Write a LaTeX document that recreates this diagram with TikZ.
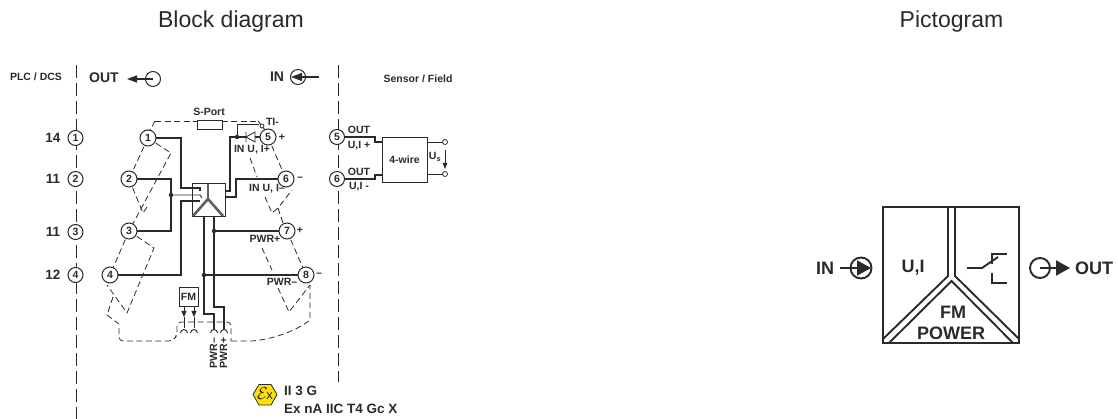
\documentclass[tikz,border=0pt]{standalone}
\usepackage{fontspec}
\setmainfont{Liberation Sans}
\usetikzlibrary{arrows.meta}
\definecolor{ink}{HTML}{2B2A29}
\definecolor{exy}{HTML}{FFE000}
\tikzset{
 x=1pt,y=-1pt,
 every node/.style={text=ink,inner sep=0pt,outer sep=0pt},
 wire/.style={draw=ink,line width=1.25pt},
 thin wire/.style={draw=ink,line width=.9pt},
 dsh/.style={draw=ink,line width=.8pt,dash pattern=on 6pt off 3.5pt},
 divider/.style={draw=ink,line width=1pt,dash pattern=on 13pt off 5pt},
 term/.style={circle,draw=ink,fill=white,line width=1pt,minimum size=15pt,font=\fontsize{10.5}{11}\selectfont\bfseries},
 iterm/.style={term,minimum size=16pt},
 lab/.style={font=\fontsize{10.5}{11}\selectfont\bfseries},
 numlab/.style={font=\fontsize{13.5}{14}\selectfont\bfseries},
 bigl/.style={font=\fontsize{14}{15}\selectfont\bfseries},
 title/.style={font=\fontsize{23}{25}\selectfont},
 picl/.style={font=\fontsize{18}{20}\selectfont\bfseries},
 dot/.style={circle,fill=ink,minimum size=4.5pt},
 open/.style={circle,draw=ink,fill=white,line width=.8pt,minimum size=5pt},
 heavy/.style={draw=ink,line width=1.9pt,line join=miter},
 ybar/.style={draw=ink!75,line width=2.6pt},
}
\begin{document}
\begin{tikzpicture}
\useasboundingbox (0,0) rectangle (1118,419);
\node[title] (t1) at (231,22) {Block diagram};
\node[title] (t2) at (951.5,22) {Pictogram};
% dividers
\coordinate (dl1) at (76,65); \coordinate (dl2) at (76,419);
\coordinate (dr1) at (338,65); \coordinate (dr2) at (338,382);
\draw[divider] (dl1)--(dl2);
\draw[divider] (dr1)--(dr2);
\node[lab] (plc) at (36,77) {PLC / DCS};
\node[lab] (sf) at (418,79) {Sensor / Field};
\node[bigl] (out) at (104,78) {OUT};
\node[bigl] (in) at (277,77) {IN};
% OUT / IN symbols
\node[circle,draw=ink,line width=1pt,minimum size=15pt] (oc) at (153,79) {};
\draw[line width=1.2pt,draw=ink,-{Triangle[length=10pt,width=7pt]}] (oc.center)--(127,79);
\node[circle,draw=ink,line width=1pt,minimum size=15pt] (ic) at (298,77) {};
\draw[line width=1.2pt,draw=ink,-{Triangle[length=11pt,width=8pt]}] (319,77)--(291,77);
% outer terminals
\foreach \n/\t/\y in {a/1/138,b/2/179,c/3/232,d/4/275}{\node[term] (o\n) at (75.5,\y) {\t};}
\node[numlab] (l14) at (53,138) {14};
\node[numlab] (l11a) at (53,179) {11};
\node[numlab] (l11b) at (53,232) {11};
\node[numlab] (l12) at (53,275) {12};
% block
\node[minimum width=33pt,minimum height=33pt,draw=ink,line width=1pt,fill=white] (blk) at (208.5,200.5) {};
% dashed links (under terminals)
\draw[dsh] (155,121)--(258,121);
\draw[dsh] (155,121)--(148,134);
\draw[dsh] (148,138)--(129,179);
\draw[dsh] (148,138)--(171,153)--(129,231);
\draw[dsh] (129,179)--(143,213)--(147,207);
\draw[dsh] (129,231)--(110,275);
\draw[dsh] (129,231)--(154,248)--(127,313)--(107,285);
\draw[dsh] (113,297)--(107,315)--(119,324);
\draw[dsh,rounded corners=4pt] (119,328)--(119,341)--(173,341)--(177,335)--(177,322)--(231,322)--(231,341);
\draw[dsh] (231,341) -- (253,341) .. controls (280,338) and (300,328) .. (310,320) -- (310,285);
\draw[dsh] (268,137)--(286,179);
\draw[dsh] (250,158)--(257,177);
\draw[dsh] (265,197)--(272,213)--(278,208)--(292,190);
\draw[dsh] (278,208)--(283,223);
\draw[dsh] (287,231)--(306,275);
\draw[dsh] (262,248)--(272,270);
\draw[dsh] (278,288)--(289,312)--(310,285);
% S-port
\node[minimum width=25pt,minimum height=8.5pt,draw=ink,line width=.8pt,fill=white] (sp) at (209.5,125) {};
\node[lab] (spl) at (209,112) {S-Port};
% inner terminals
\foreach \n/\t/\x/\y in {a/1/148/138,b/2/129/179,c/3/129/231,d/4/110/275,e/5/268/137,f/6/286/179,g/7/287/231,h/8/306/275}{\node[iterm] (i\n) at (\x,\y) {\t};}
% wires
\node[dot] (d2) at (171,195) {};
\node[dot] (d5) at (237,137) {};
\node[dot] (d7) at (214,231) {};
\node[dot] (d8) at (204,275) {};
\draw[wire] (ia.east)--(181,138)--(181,188)--(200,188)--(200,191);
\draw[wire] (ib.east)--(171,179)--(171,231)--(ic.east);
\draw[thin wire] (d2)--(200,195)--(202,198);
\draw[wire] (id.east)--(181,275)--(181,201)--(200,201);
\draw[wire] (225,191)--(230,191)--(230,137)--(d5);
\draw[wire] (d5)--(246,137);
\draw[wire] (255,137)--(ie.west);
\draw[thin wire] (d5)--(237,124)--(259,124);
\draw[thin wire] (258,121)--(265,130);
\node[open,minimum size=4pt] (ti) at (262,126) {};
\draw[wire] (if.west)--(236,179)--(236,197)--(225,197);
\draw[wire] (d7)--(ig.west);
\draw[wire] (d8)--(ih.west);
\draw[wire] (204,217)--(204,314)--(214,314)--(214,330);
\draw[wire] (214,217)--(214,307)--(224,307)--(224,330);
% diode
\draw[draw=ink,line width=.8pt] (246,132)--(246,142) (246,137)--(255,132)--(255,142)--cycle;
% Y in block
\draw[ybar] (208,184)--(208,199);
\draw[ybar] (193,216)--(208,199)--(223,216);
% labels
\node[lab,anchor=west] (til) at (266,122) {TI-};
\node[lab] (p5) at (282,137) {+};
\node[lab] (i1) at (252,150) {IN U, I+};
\node[lab] (i2) at (267,189) {IN U, I--};
\node[lab] (p6) at (300,179) {--};
\node[lab] (p7) at (300,230) {+};
\node[lab] (p8) at (319,275) {--};
\node[lab] (pw1) at (265,239) {PWR+};
\node[lab] (pw2) at (282,282) {PWR--};
% FM
\node[minimum size=19pt,draw=ink,line width=.8pt,fill=white,lab] (fm) at (188.5,296.5) {FM};
\draw[thin wire,-{Triangle[length=6pt,width=5pt]}] (184,306)--(184,317);
\draw[thin wire,-{Triangle[length=6pt,width=5pt]}] (194,306)--(194,317);
\draw[thin wire] (184,317)--(184,328) (194,317)--(194,328);
\foreach \x in {184,194,214,224}{\draw[thin wire] (\x-3.5,333) arc[start angle=180,end angle=0,radius=3.5pt];}
\node[lab,rotate=90] (pw3) at (213.5,353) {PWR--};
\node[lab,rotate=90] (pw4) at (223.5,353) {PWR+};
% right side
\node[term] (re) at (337,137) {5};
\node[term] (rf) at (337,179) {6};
\node[minimum width=45pt,minimum height=45pt,draw=ink,line width=.8pt,lab] (w4) at (404.5,159.5) {4-wire};
\draw[wire] (re.east)--(375,137)--(375,142)--(382,142);
\draw[wire] (rf.east)--(375,179)--(375,175)--(382,175);
\node[open] (o1) at (445,142) {};
\node[open] (o2) at (445,174) {};
\draw[thin wire] (427,142)--(o1);
\draw[thin wire] (427,174)--(o2);
\draw[thin wire,-{Triangle[length=6pt,width=4.5pt]}] (445,150)--(445,169);
\node[lab] (us) at (435,157) {U\textsubscript{s}};
\node[lab] (r1) at (359,130) {OUT};
\node[lab] (r2) at (359,146) {U,I +};
\node[lab] (r3) at (359,172) {OUT};
\node[lab] (r4) at (359,187) {U,I -};
% Ex
\path[fill=exy,draw=ink,line width=.8pt] (253,394.5)--(259,384.5)--(271,384.5)--(277,394.5)--(271,405)--(259,405)--cycle;
\node[font=\fontsize{17}{17}\selectfont] (ex) at (265,394) {$\mathcal{E}$\kern-1.5pt\fontsize{13}{13}\selectfont x};
\node[anchor=west,font=\fontsize{13.5}{14}\selectfont\bfseries] (z1) at (284,391) {II 3 G};
\node[anchor=west,font=\fontsize{13.5}{14}\selectfont\bfseries] (z2) at (284,409) {Ex nA IIC T4 Gc X};
% Pictogram
\draw[heavy] (883,207) rectangle (1019,343);
\draw[heavy] (948,207)--(948,276)--(883,339);
\draw[heavy] (955,207)--(955,276)--(1019,339);
\draw[heavy] (889,343)--(951.5,281)--(1013,343);
\node[picl] (ui) at (913,268) {U,I};
\node[picl] (fmp) at (953,312) {FM};
\node[picl] (pwr) at (951,333) {POWER};
\node[picl] (pin) at (825,268) {IN};
\node[picl] (pout) at (1094,268) {OUT};
\node[circle,draw=ink,line width=1.9pt,minimum size=21pt] (pc1) at (861,268) {};
\draw[heavy,-{Triangle[length=14pt,width=15pt]}] (840,268)--(871,268);
\node[circle,draw=ink,line width=1.9pt,minimum size=20pt] (pc2) at (1040,268) {};
\draw[heavy,-{Triangle[length=14pt,width=15pt]}] (pc2.center)--(1070,268);
\draw[heavy] (967,268)--(982,268)--(998,257);
\draw[heavy] (992,264)--(992,254)--(1007,254);
\draw[heavy] (992,273)--(992,283)--(1007,283);
\end{tikzpicture}
\end{document}
